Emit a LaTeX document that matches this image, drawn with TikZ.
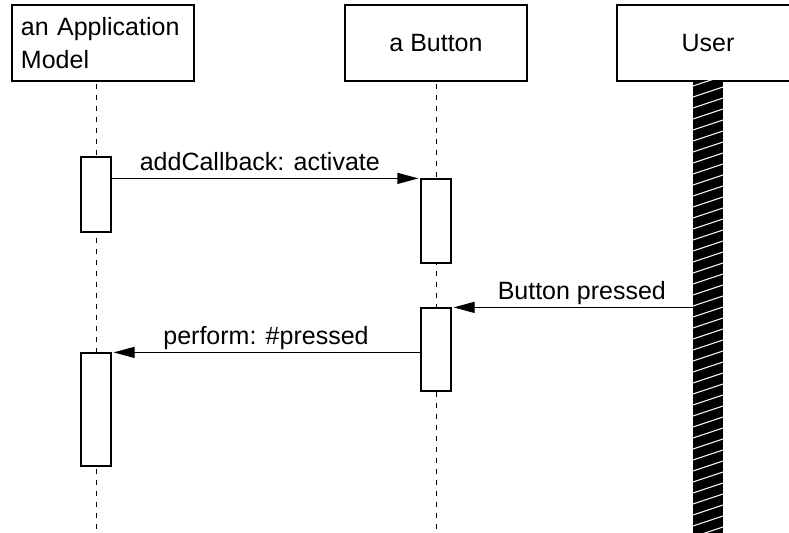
\documentclass[tikz,border=0pt]{standalone}
\usepackage{fontspec}
\setmainfont{Liberation Sans}
\usetikzlibrary{arrows.meta}
\begin{document}
\begin{tikzpicture}[x=1bp,y=-1bp]%[pixel grid, y down]
			\tikzstyle{every node}=[font=\fontsize{25bp}{33bp}\selectfont]
			\tikzstyle{obj}=[draw,line width=1.2bp,minimum width=182bp,minimum height=76bp,inner sep=0pt]
			\tikzstyle{act}=[draw,fill=white,line width=1.2bp,minimum width=30bp,inner sep=0pt]
			\tikzstyle{life}=[dash pattern=on 5bp off 6bp,dash phase=-2bp,line width=1bp]
			\tikzstyle{msg}=[line width=1.2bp,-{Triangle[length=21bp,width=11bp]},shorten >=2bp]
			\tikzstyle{lbl}=[anchor=base,yshift=8bp,inner sep=0pt]
			\path[use as bounding box] (0,0) rectangle (789,533);
			\clip (0,0) rectangle (789,533);
			\node[obj,align=left,text width=164bp,inner xsep=9bp] (app) at (103,43) {an Application\\Model};
			\node[obj] (button) at (436,43) {a Button};
			\node[obj] (user) at (708,43) {User};
			\coordinate (appEnd) at (96,533);
			\coordinate (btnEnd) at (436,533);
			\draw[life] (appEnd |- app.south) -- (appEnd);
			\draw[life] (button.south) -- (btnEnd);
			\node[act,minimum height=75bp] (a1) at (96,194.5) { };
			\node[act,minimum height=113bp] (a2) at (96,409.5) { };
			\node[act,minimum height=84bp] (b1) at (436,221) { };
			\node[act,minimum height=83bp] (b2) at (436,349.5) { };
			\node[fill=black,minimum width=30bp,minimum height=452bp,inner sep=0pt] (bar) at (708,307) { };
			\begin{scope}
				\clip (bar.south west) rectangle (bar.north east);
				\foreach \y in {86,97,...,556}
				{
					\draw[white,line width=1bp] (693,\y) -- ({723},{\y-10});
				}
			\end{scope}
			\draw[msg] (a1.east |- b1.north) -- node[lbl,pos=0.48] (addLbl) {addCallback: activate} (b1.north west);
			\draw[msg] (bar.west |- b2.north) -- node[lbl,pos=0.46] (pressLbl) {Button pressed} (b2.north east);
			\draw[msg] (b2.west |- a2.north) -- node[lbl,pos=0.5] (performLbl) {perform: \#pressed} (a2.north east);
			\end{tikzpicture}
\end{document}
